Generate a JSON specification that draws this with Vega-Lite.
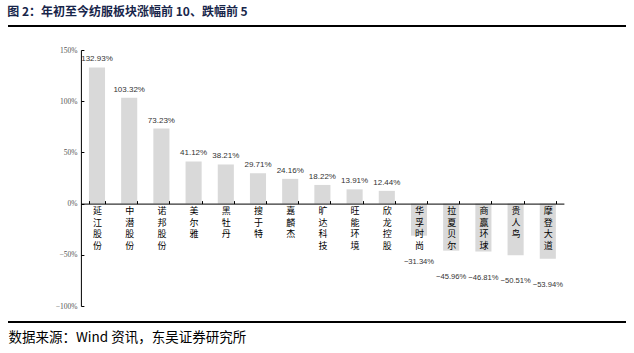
{
  "$schema": "https://vega.github.io/schema/vega-lite/v6.json",
  "width": 618,
  "height": 296,
  "autosize": {"type": "none"},
  "padding": {"left": 8, "right": 8, "top": 26, "bottom": 31},
  "background": "white",
  "config": {"view": {"stroke": null}, "font": "Noto Sans CJK SC"},
  "title": {
    "text": "图 2：年初至今纺服板块涨幅前 10、跌幅前 5",
    "anchor": "start",
    "fontSize": 12,
    "fontWeight": "bold",
    "color": "#17254a",
    "font": "Noto Sans CJK SC",
    "offset": 6
  },
  "data": {
    "values": [
      {"name": "延江股份", "value": 1.3293},
      {"name": "中潜股份", "value": 1.0332},
      {"name": "诺邦股份", "value": 0.7323},
      {"name": "美尔雅", "value": 0.4112},
      {"name": "黑牡丹", "value": 0.3821},
      {"name": "搜于特", "value": 0.2971},
      {"name": "嘉麟杰", "value": 0.2416},
      {"name": "旷达科技", "value": 0.1822},
      {"name": "旺能环境", "value": 0.1391},
      {"name": "欣龙控股", "value": 0.1244},
      {"name": "华孚时尚", "value": -0.3134},
      {"name": "拉夏贝尔", "value": -0.4596},
      {"name": "商赢环球", "value": -0.4681},
      {"name": "贵人鸟", "value": -0.5051},
      {"name": "摩登大道", "value": -0.5394}
    ]
  },
  "layer": [
    {
      "mark": {"type": "bar", "color": "#D9D9D9"},
      "encoding": {
        "x": {
          "field": "name",
          "type": "nominal",
          "sort": null,
          "scale": {"range": [72.9, 555.9], "paddingInner": 0.5, "paddingOuter": 0.25},
          "axis": {
            "orient": "bottom",
            "offset": -118.4,
            "title": null,
            "zindex": 2,
            "domainColor": "#000000",
            "domainWidth": 1,
            "tickColor": "#000000",
            "tickSize": -3,
            "tickBand": "extent",
            "labelAngle": 0,
            "labelExpr": "isString(datum.value) ? split(datum.value, '') : ''",
            "labelFont": "Noto Sans CJK SC",
            "labelFontSize": 9,
            "labelLineHeight": 11.5,
            "labelColor": "#000000",
            "labelBaseline": "top",
            "labelPadding": 6
          }
        },
        "y": {
          "field": "value",
          "type": "quantitative",
          "scale": {"domain": [-1, 1.5], "range": [280, 24], "nice": false, "zero": false},
          "axis": {
            "offset": -72.9,
            "values": [-1, -0.5, 0, 0.5, 1, 1.5],
            "format": ".0%",
            "grid": false,
            "domainColor": "#000000",
            "domainWidth": 1,
            "tickColor": "#000000",
            "tickSize": -3,
            "labelFont": "Liberation Serif",
            "labelFontSize": 7.5,
            "labelColor": "#555555",
            "labelPadding": 7,
            "title": "数据来源：Wind 资讯，东吴证券研究所",
            "titleAngle": 0,
            "titleAlign": "left",
            "titleBaseline": "middle",
            "titleX": -72.9,
            "titleY": 311,
            "titleFont": "Noto Sans CJK SC",
            "titleFontSize": 13.5,
            "titleFontWeight": "normal",
            "titleColor": "#000000"
          }
        }
      }
    },
    {
      "mark": {"type": "rule", "color": "#000000", "strokeWidth": 1.6},
      "encoding": {"y": {"datum": 1.7344}}
    },
    {
      "mark": {"type": "rule", "color": "#000000", "strokeWidth": 1.6},
      "encoding": {"y": {"datum": -1.1562}}
    },
    {
      "transform": [{"filter": "datum.value > 0"}],
      "mark": {"type": "text", "baseline": "bottom", "dy": -4, "font": "Liberation Sans", "fontSize": 8, "color": "#333333"},
      "encoding": {
        "x": {"field": "name", "type": "nominal", "sort": null},
        "y": {"field": "value", "type": "quantitative"},
        "text": {"field": "value", "type": "quantitative", "format": ".2%"}
      }
    },
    {
      "transform": [{"filter": "datum.value < 0"}],
      "mark": {"type": "text", "baseline": "middle", "dy": 26, "font": "Liberation Sans", "fontSize": 7.6, "color": "#333333"},
      "encoding": {
        "x": {"field": "name", "type": "nominal", "sort": null},
        "y": {"field": "value", "type": "quantitative"},
        "text": {"field": "value", "type": "quantitative", "format": ".2%"}
      }
    }
  ]
}
